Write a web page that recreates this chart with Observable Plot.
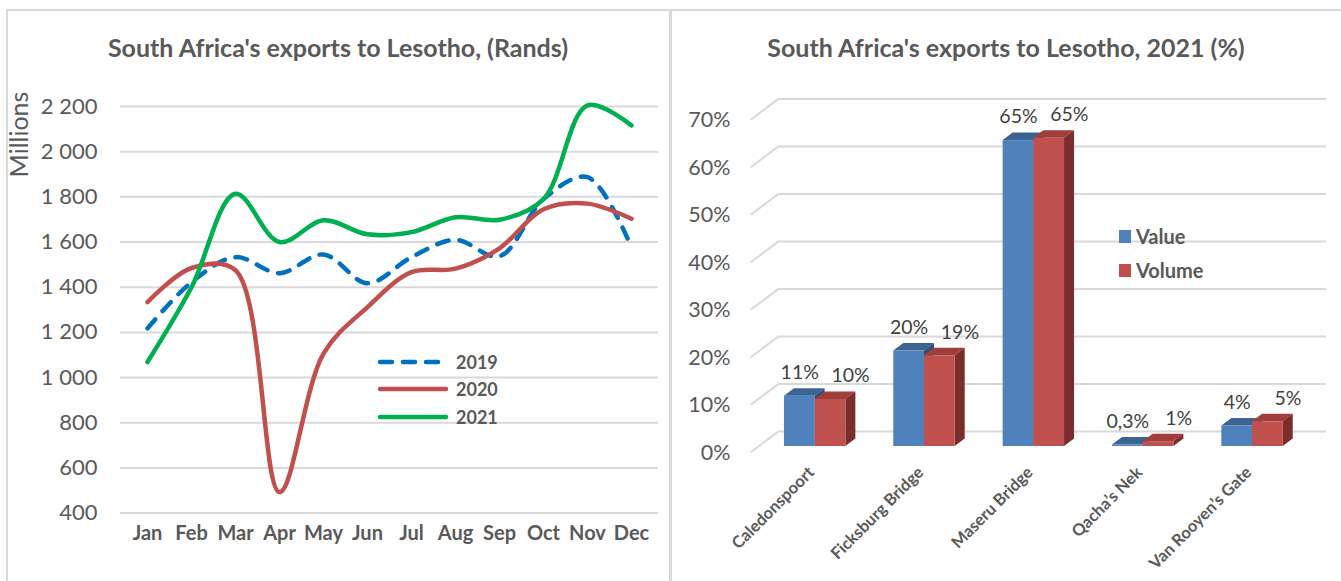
<!DOCTYPE html>
<html>
<head>
<meta charset="utf-8">
<script src="https://cdn.jsdelivr.net/npm/d3@7"></script>
<script src="https://cdn.jsdelivr.net/npm/@observablehq/plot@0.6"></script>
<style>
  body { margin: 0; background: #fff; }
  #wrap { position: relative; width: 1341px; height: 581px; overflow: hidden; font-family: Lato, "Open Sans", sans-serif; color: #595959; }
  .panel { position: absolute; top: 9px; height: 620px; border: 2px solid #d9d9d9; box-sizing: border-box; }
  #pl { left: 6px; width: 666px; }
  #pr { left: 669px; width: 700px; }
  .chart { position: absolute; top: 0; }
  .title { position: absolute; font-weight: bold; font-size: 25px; white-space: nowrap; transform: translate(-50%, -50%); color: #595959; }
  .leg { position: absolute; font-weight: bold; white-space: nowrap; color: #595959; }
</style>
</head>
<body>
<div id="wrap">
  <div class="panel" id="pl"></div>
  <div class="panel" id="pr"></div>
  <div class="chart" id="c1" style="left:0px"></div>
  <div class="chart" id="c2" style="left:670px"></div>
  <div class="title" style="left:338px;top:47px">South Africa's exports to Lesotho, (Rands)</div>
  <div class="title" style="left:1006px;top:47px">South Africa's exports to Lesotho, 2021 (%)</div>
  <div id="leg1"></div>
  <div id="leg2"></div>
</div>
<script>
// ---------- Left chart data (R millions) ----------
const months = ["Jan","Feb","Mar","Apr","May","Jun","Jul","Aug","Sep","Oct","Nov","Dec"];
const exports2019 = [1218, 1422, 1533, 1462, 1545, 1418, 1533, 1610, 1537, 1790, 1887, 1575];
const exports2020 = [1334, 1485, 1475, 493, 1106, 1312, 1467, 1482, 1572, 1745, 1770, 1703];
const exports2021 = [1069, 1400, 1814, 1600, 1696, 1634, 1644, 1710, 1699, 1790, 2205, 2116];
const yearNames = ["2019", "2020", "2021"];
const randTicks = [400, 600, 800, 1000, 1200, 1400, 1600, 1800, 2000, 2200];

// ---------- Right chart data (% share, 2021) ----------
const gates = ["Caledonspoort", "Ficksburg Bridge", "Maseru Bridge", "Qacha’s Nek", "Van Rooyen’s Gate"];
const valueShare = [10.6, 20.1, 64.4, 0.3, 4.3];
const volumeShare = [9.9, 19.1, 64.9, 1.0, 5.2];
const valueLabels = ["11%", "20%", "65%", "0,3%", "4%"];
const volumeLabels = ["10%", "19%", "65%", "1%", "5%"];
const seriesNames = ["Value", "Volume"];
const pctTicks = [0, 10, 20, 30, 40, 50, 60, 70];

// ---------- styles ----------
const TXT = "#595959";
const FONT = "Lato, 'Open Sans', sans-serif";
const lineColors = {"2019": "#0070C0", "2020": "#C0504D", "2021": "#00B050"};
const barColors = [
  {front: "#4F81BD", top: "#3B6493", side: "#2F4F78"},
  {front: "#C0504D", top: "#A03E3B", side: "#7A2D2B"}
];

const rows = months.flatMap((m, i) => [
  {month: m, year: "2019", value: exports2019[i]},
  {month: m, year: "2020", value: exports2020[i]},
  {month: m, year: "2021", value: exports2021[i]}
]);

const fmtRand = d => d >= 1000 ? `${Math.floor(d / 1000)} ${String(d % 1000).padStart(3, "0")}` : String(d);

const left = Plot.plot({
  width: 670, height: 581,
  marginLeft: 120, marginRight: 12, marginTop: 106, marginBottom: 68.4,
  x: {type: "point", domain: months, padding: 0.5, axis: null},
  y: {domain: [400, 2200], axis: null},
  style: {background: "transparent", overflow: "visible", fontFamily: FONT, color: TXT},
  marks: [
    Plot.ruleY(randTicks, {stroke: "#d9d9d9", strokeWidth: 2}),
    Plot.text(randTicks, {y: d => d, text: fmtRand, frameAnchor: "left", dx: -23, textAnchor: "end", fontSize: 22, fill: TXT}),
    Plot.text(months, {x: d => d, text: d => d, frameAnchor: "bottom", dy: 27, textAnchor: "middle", fontSize: 20, fontWeight: "bold", fill: TXT}),
    Plot.text(["Millions"], {text: d => d, frameAnchor: "top-left", dx: -110, dy: 28, rotate: -90, textAnchor: "middle", fontSize: 25, fill: TXT}),
    Plot.line(rows.filter(d => d.year === "2019"), {x: "month", y: "value", stroke: lineColors["2019"], strokeWidth: 4.5, strokeDasharray: "12,11", strokeLinecap: "round", curve: "catmull-rom"}),
    Plot.line(rows.filter(d => d.year === "2020"), {x: "month", y: "value", stroke: lineColors["2020"], strokeWidth: 4.5, strokeLinecap: "round", curve: "catmull-rom"}),
    Plot.line(rows.filter(d => d.year === "2021"), {x: "month", y: "value", stroke: lineColors["2021"], strokeWidth: 4.5, strokeLinecap: "round", curve: "catmull-rom"})
  ]
});
document.getElementById("c1").appendChild(left);

// ---------- right chart ----------
const gateRows = gates.map((g, i) => ({gate: g, value: valueShare[i], volume: volumeShare[i], valueLabel: valueLabels[i], volumeLabel: volumeLabels[i]}));

const WALL_LEFT = 80.7, WALL_FRONT_DY = 6.3, WALL_DX = 27.5, WALL_DY = -20.7, WALL_RIGHT = 656;
const BAR_DX = 10, BAR_DY = -7.5;

function wall(index, scales, values, dims) {
  const y = scales.y;
  const g = d3.create("svg:g").attr("fill", "none").attr("stroke", "#d9d9d9").attr("stroke-width", 2);
  for (const t of pctTicks) {
    const yf = y(t) + WALL_FRONT_DY;
    g.append("path").attr("d", `M${WALL_LEFT},${yf}l${WALL_DX},${WALL_DY}H${WALL_RIGHT}`);
  }
  return g.node();
}

function bars3d(index, scales, values, dims) {
  const {x, y} = scales;
  const bw = typeof x.bandwidth === "function" ? x.bandwidth() : x.bandwidth;
  const half = bw / 2;
  const g = d3.create("svg:g");
  gateRows.forEach(r => {
    [r.value, r.volume].forEach((v, s) => {
      const c = barColors[s];
      const x0 = x(r.gate) + s * half, x1 = x0 + half, yt = y(v), yb = y(0);
      g.append("path").attr("fill", c.top)
        .attr("d", `M${x0},${yt}L${x1},${yt}L${x1 + BAR_DX},${yt + BAR_DY}L${x0 + BAR_DX},${yt + BAR_DY}Z`);
      g.append("path").attr("fill", c.side)
        .attr("d", `M${x1},${yt}L${x1 + BAR_DX},${yt + BAR_DY}L${x1 + BAR_DX},${yb + BAR_DY}L${x1},${yb}Z`);
      g.append("rect").attr("fill", c.front).attr("x", x0).attr("y", yt).attr("width", half).attr("height", yb - yt);
    });
  });
  return g.node();
}

const right = Plot.plot({
  width: 671, height: 581,
  marginLeft: 66, marginRight: 10.3, marginTop: 113.5, marginBottom: 135,
  x: {type: "band", domain: gates, padding: 0.4385, round: false, axis: null},
  y: {domain: [0, 70], axis: null},
  style: {background: "transparent", overflow: "visible", fontFamily: FONT, color: TXT},
  marks: [
    wall,
    bars3d,
    Plot.text(pctTicks, {y: d => d, text: d => d + "%", frameAnchor: "left", dx: -6, dy: WALL_FRONT_DY, textAnchor: "end", fontSize: 21.5, fill: TXT}),
    Plot.text(gateRows, {x: "gate", y: "value", text: "valueLabel", dx: -15.4, dy: -23.5, fontSize: 19.5, fill: "#404040"}),
    Plot.text(gateRows, {x: "gate", y: "volume", text: "volumeLabel", dx: 35.4, dy: -23.5, fontSize: 19.5, fill: "#404040"}),
    Plot.text(gateRows, {x: "gate", text: "gate", frameAnchor: "bottom", dy: 27, rotate: -45, textAnchor: "end", fontSize: 16.5, fontWeight: "bold", fill: TXT})
  ]
});
document.getElementById("c2").appendChild(right);

// ---------- legends ----------
const leg1 = document.getElementById("leg1");
const legY = [361.7, 389.3, 416.7];
yearNames.forEach((yr, i) => {
  const dash = yr === "2019" ? 'stroke-dasharray="12,11"' : "";
  leg1.insertAdjacentHTML("beforeend",
    `<svg style="position:absolute;left:376px;top:${legY[i] - 6}px" width="74" height="12"><line x1="4" x2="70" y1="6" y2="6" stroke="${lineColors[yr]}" stroke-width="4.5" stroke-linecap="round" ${dash}/></svg>` +
    `<div class="leg" style="left:456px;top:${legY[i] - 12}px;line-height:24px;font-size:18px">${yr}</div>`);
});
const leg2 = document.getElementById("leg2");
const leg2Y = [236, 270];
seriesNames.forEach((s, i) => {
  leg2.insertAdjacentHTML("beforeend",
    `<div style="position:absolute;left:1118.5px;top:${leg2Y[i] - 6}px;width:12.5px;height:12.5px;background:${barColors[i].front}"></div>` +
    `<div class="leg" style="left:1136px;top:${leg2Y[i] - 12}px;line-height:24px;font-size:20px">${s}</div>`);
});
</script>
</body>
</html>
